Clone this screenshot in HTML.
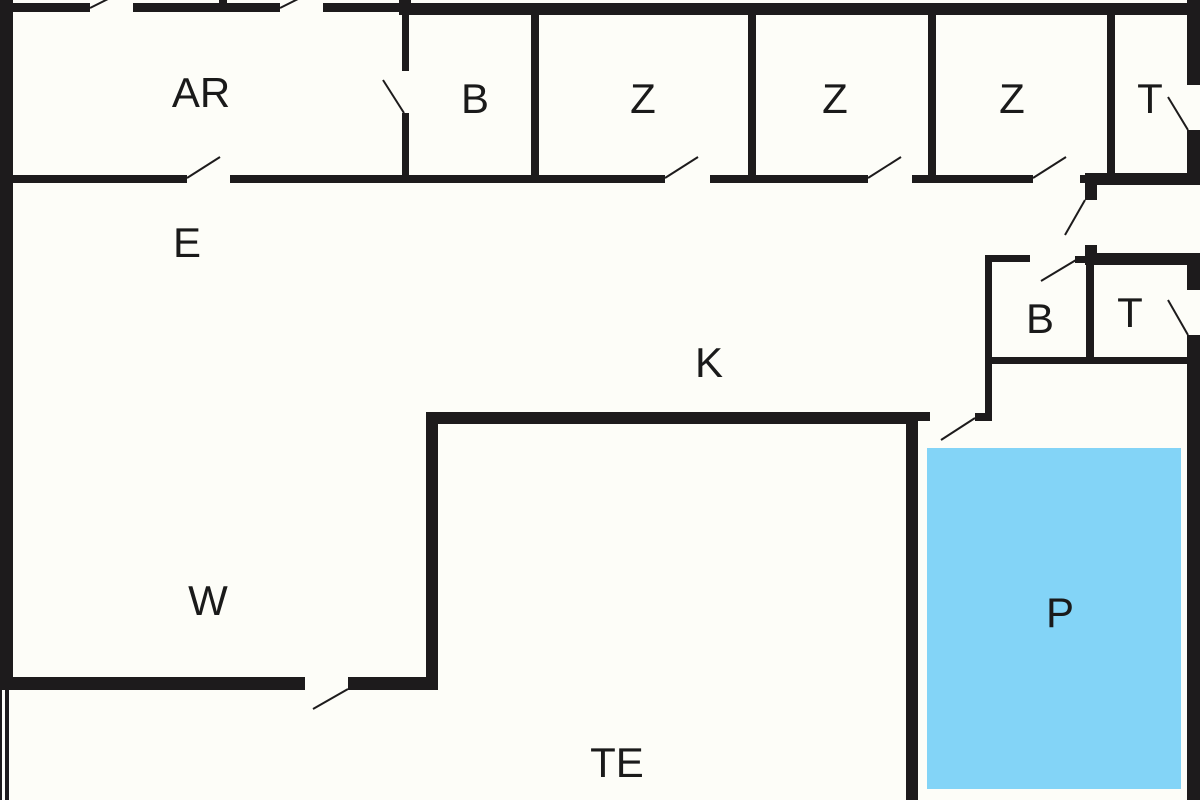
<!DOCTYPE html>
<html><head><meta charset="utf-8"><style>
html,body{margin:0;padding:0;background:#fdfdf8;}
svg{display:block}
text{font-family:"Liberation Sans",sans-serif;font-size:42px;fill:#1a1a1a;text-anchor:middle}
</style></head><body>
<svg width="1200" height="800" viewBox="0 0 1200 800">
<rect width="1200" height="800" fill="#fdfdf8"/>
<rect x="927" y="448" width="254" height="341" fill="#83d4f7"/>
<g fill="#1d1b1c">
<!-- top wall left part -->
<rect x="0" y="3" width="90" height="9"/>
<rect x="133" y="3" width="147" height="9"/>
<rect x="219" y="0" width="8" height="12"/>
<rect x="323" y="3" width="82" height="9"/>
<!-- top wall right -->
<rect x="399" y="0" width="12" height="15"/>
<rect x="405" y="3" width="795" height="12"/>
<!-- left wall -->
<rect x="0" y="0" width="13" height="690"/>
<rect x="0" y="690" width="2" height="110"/>
<rect x="5" y="690" width="4" height="110"/>
<!-- horizontal wall y179 -->
<rect x="13" y="175" width="174" height="8"/>
<rect x="230" y="175" width="435" height="8"/>
<rect x="710" y="175" width="158" height="8"/>
<rect x="912" y="175" width="121" height="8"/>
<rect x="1080" y="175" width="17" height="8"/>
<rect x="1085" y="173" width="115" height="12"/>
<rect x="1085" y="173" width="12" height="27"/>
<!-- verticals top rooms -->
<rect x="402" y="8" width="7" height="63"/>
<rect x="402" y="113" width="7" height="66"/>
<rect x="531" y="8" width="8" height="171"/>
<rect x="748" y="8" width="8" height="171"/>
<rect x="928" y="8" width="8" height="171"/>
<rect x="1107" y="8" width="8" height="171"/>
<!-- right wall -->
<rect x="1187" y="0" width="13" height="85"/>
<rect x="1187" y="130" width="13" height="55"/>
<rect x="1187" y="253" width="13" height="37"/>
<rect x="1187" y="335" width="13" height="465"/>
<!-- corridor block & B/T top -->
<rect x="1085" y="245" width="12" height="20"/>
<rect x="1085" y="253" width="115" height="12"/>
<rect x="985" y="255" width="45" height="7"/>
<rect x="1075" y="256" width="15" height="7"/>
<rect x="985" y="255" width="7" height="165"/>
<rect x="1086" y="258" width="8" height="103"/>
<rect x="985" y="357" width="205" height="7"/>
<!-- K bottom -->
<rect x="426" y="412" width="492" height="12"/>
<rect x="426" y="412" width="12" height="278"/>
<rect x="906" y="412" width="12" height="388"/>
<rect x="906" y="412" width="24" height="9"/>
<rect x="975" y="413" width="17" height="8"/>
<!-- W bottom -->
<rect x="9" y="677" width="296" height="13"/>
<rect x="348" y="677" width="90" height="13"/>
</g>
<g stroke="#1d1b1c" stroke-width="2" fill="none">
<line x1="90" y1="8" x2="110" y2="-2"/>
<line x1="280" y1="8" x2="300" y2="-2"/>
<line x1="404" y1="113" x2="383" y2="80"/>
<line x1="187" y1="178" x2="220" y2="157"/>
<line x1="665" y1="178" x2="698" y2="157"/>
<line x1="868" y1="178" x2="901" y2="157"/>
<line x1="1033" y1="178" x2="1066" y2="157"/>
<line x1="1085" y1="200" x2="1065" y2="235"/>
<line x1="1076" y1="260" x2="1041" y2="281"/>
<line x1="1188" y1="130" x2="1168" y2="97"/>
<line x1="1188" y1="335" x2="1168" y2="300"/>
<line x1="975" y1="418" x2="941" y2="440"/>
<line x1="348" y1="689" x2="313" y2="709"/>
</g>
<text x="201" y="107">AR</text>
<text x="475" y="113">B</text>
<text x="643" y="113">Z</text>
<text x="835" y="113">Z</text>
<text x="1012" y="113">Z</text>
<text x="1150" y="113">T</text>
<text x="187" y="257">E</text>
<text x="709" y="377">K</text>
<text x="1040" y="333">B</text>
<text x="1130" y="327">T</text>
<text x="208" y="615">W</text>
<text x="1060" y="627">P</text>
<text x="617" y="777">TE</text>
</svg>
</body></html>
